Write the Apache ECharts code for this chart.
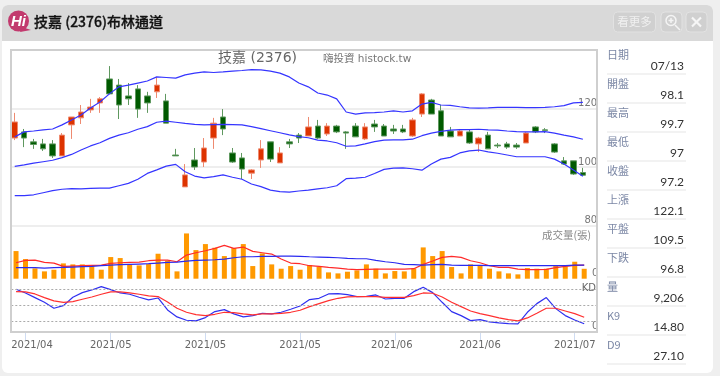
<!DOCTYPE html>
<html><head><meta charset="utf-8">
<style>html,body{margin:0;padding:0;background:#efefef;overflow:hidden}#c{width:720px;height:376px}</style>
<script src="https://cdn.jsdelivr.net/npm/echarts@6/dist/echarts.min.js"></script>
</head><body><div id="c"></div>
<script>
const titleText='技嘉 (2376)布林通道';
const tickIndex=[1,10,20,30,40,49,59];
const tickLabels=['2021/04','2021/05','2021/05','2021/05','2021/06','2021/06','2021/07'];
// [open, close, low, high]
const candles=[
[109.9,115.4,109.2,118.5],[112.0,109.9,106.8,113.0],[108.6,107.7,106.2,109.6],[107.9,106.2,105.5,109.6],[107.9,103.8,103.1,109.2],
[103.8,110.9,103.8,111.6],[114.4,117.1,109.6,117.1],[116.8,118.8,114.7,121.2],[119.5,120.5,118.5,123.3],[121.9,123.3,118.5,123.9],
[130.1,125.0,125.0,134.5],[128.0,121.2,116.4,130.1],[124.3,123.3,121.2,128.7],[126.7,119.8,116.8,128.0],[124.3,121.9,118.5,125.7],
[125.7,128.0,123.6,130.8],[122.6,115.0,115.0,125.0],[104.1,103.8,103.8,106.2],[93.2,97.3,93.2,101.0],[102.4,100,99,106.5],
[101.7,106.5,100,109.9],[109.9,115.0,106.2,116.8],[117.1,113.0,110.9,119.8],[104.8,101.7,101.4,106.5],[103.1,99.3,95.9,104.8],
[97.9,99.0,95.9,99.3],[102.4,106.2,99.7,109.2],[108.6,102.7,101.7,108.6],[101.4,104.8,101.4,106.8],[108.6,107.9,106.5,109.6],
[110.9,109.9,108.2,111.6],[110.6,113.7,110.6,117.1],[114.0,109.9,109.6,116.1],[111.3,114.0,110.6,115.0],[114.0,112.0,111.6,114.4],
[112.0,111.6,106.2,112.3],[114.0,110.3,110.3,115.0],[109.6,113.7,109.2,115.0],[114.7,113.7,112.0,116.1],[114.0,110.6,110.6,114.7],
[113.0,112.3,111.3,114.4],[113.0,112.0,111.6,114.4],[110.6,116.1,110.3,116.8],[118.1,125.0,117.1,125.3],[122.9,118.1,118.1,123.3],
[119.2,110.6,110.6,121.2],[112.3,110.3,110.3,113.7],[110.6,112.3,110.6,113.0],[112.0,108.2,107.9,112.7],[107.9,109.9,105.1,110.3],
[110.9,106.2,106.2,112.0],[107.5,107.2,106.5,108.2],[107.9,106.8,106.2,108.6],[107.5,106.8,106.2,108.2],[108.2,111.6,108.2,112.0],
[113.7,112.0,111.6,114.0],[112.7,112.5,111.6,113.3],[107.9,105.1,104.8,108.2],[102.1,101.0,100.7,103.4],[102.1,97.6,97.3,102.1],
[98.1,97.2,97,99.7]];
const bollUpper=[110.3,112.0,112.3,112.7,113.0,114.4,116.1,117.8,120.2,122.2,125.0,127.4,128.0,128.7,129.4,130.8,130.6,130.4,131.5,132.1,132.5,132.3,132.5,132.8,133.0,133.3,133.2,132.8,132.1,130.8,128.7,127.4,125.3,124.6,123.3,118.8,118.1,118.5,118.6,118.8,119.2,118.8,119.2,121.5,122.1,121.2,121.1,120.6,120.2,120.1,120.2,120.4,120.4,120.4,120.3,120.3,120.4,120.6,121.0,121.9,122.1];
const bollMid=[100.2,100.7,101.3,101.8,102.3,103.2,104.3,105.8,107.2,108.3,109.8,110.9,111.7,112.9,113.8,115.3,115.7,115.3,114.9,114.6,114.4,114.5,114.6,114.5,114.4,113.8,113.1,112.4,111.7,111.0,110.4,110.0,109.2,108.9,108.3,107.1,107.2,107.9,108.7,109.2,109.3,109.3,109.5,110.7,111.6,112.2,112.6,112.8,112.8,112.9,112.7,112.6,112.3,112.1,112.0,112.0,112.1,111.6,110.9,110.3,109.5];
const bollLower=[90.2,90.2,90.5,91.2,91.9,92.4,92.6,92.5,92.7,92.8,92.8,93.6,94.4,95.8,97.8,99.0,100.3,100.9,98.4,96.9,96.3,96.7,97.3,96.5,95.8,94.2,93.3,92.1,91.6,91.4,91.8,92.1,92.5,92.9,93.6,96.0,96.2,96.5,97.8,99.2,99.6,99.7,99.4,98.9,101.0,102.7,103.3,104.8,105.5,105.8,105.2,104.7,104.1,103.5,103.5,103.5,103.5,102.7,101.0,99.0,96.8];
const volume=[25650,18230,9580,6800,8340,14210,13290,13290,12050,8340,20090,19160,13290,12360,13600,23180,16690,6800,42020,26570,32140,28740,21010,28430,32140,11740,23480,13290,9270,11740,8340,12670,11120,5870,4940,6490,7730,13290,9270,4940,7110,6800,9580,29050,21010,25650,10820,4940,13290,12050,9270,6800,4940,4020,9890,9270,9270,12050,11430,15760,9206];
const volMaFast=[14830,16990,17300,15140,14520,11430,11740,12050,12360,12670,14210,14830,15140,15450,16690,17300,17300,15760,21940,24100,25960,28120,30900,28120,29360,25340,24100,22870,18230,14520,13910,12050,11430,10510,9890,8960,8340,8650,8960,8960,8960,8960,9270,13290,16380,19780,20700,19780,16690,14830,12050,10510,10510,8960,8340,8340,8650,10200,11430,12360,12670];
const volMaSlow=[10200,10200,10200,9890,10200,10510,10820,11120,11430,12050,12670,12980,13290,13600,13910,14520,15140,15450,16380,17000,17300,17610,18230,19470,20390,20390,20700,20700,21010,21010,20700,20390,20090,19780,19470,18850,18540,18540,17000,15760,14830,13290,12980,12670,12980,13290,12670,12360,12360,12360,12050,12050,12050,12050,12050,12050,12050,12050,12050,12670,12670];
const kValues=[80.0,73.0,64.2,55.3,44.0,49.0,64.8,73.6,78.7,85.0,79.3,73.0,70.5,64.8,59.8,63.5,40.8,27.6,21.3,20.0,26.3,37.7,41.5,33.3,27.6,30.1,34.5,33.3,36.4,42.1,48.4,60.4,62.9,71.1,71.7,69.8,66.1,66.7,69.2,61.6,62.9,62.9,75.5,83.7,73.6,55.3,37.7,30.1,20.6,22.5,18.1,16.2,15.0,14.3,36.4,52.8,64.2,43.3,30.1,21.9,14.8];
const dValues=[75.5,74.9,71.1,64.2,57.9,55.3,56.6,61.0,65.4,70.5,74.9,74.9,73.0,70.5,67.3,66.1,56.0,44.0,36.4,32.0,30.1,32.6,36.4,35.8,33.3,31.4,33.3,33.3,34.5,36.4,40.2,47.1,52.8,58.5,62.9,65.4,66.1,66.1,66.1,64.8,64.8,64.8,68.0,73.0,72.4,65.4,55.3,47.1,38.9,33.9,30.1,25.7,22.5,20.0,25.7,34.5,44.0,44.0,38.9,33.9,27.1];
const panelLabels=['日期','開盤','最高','最低','收盤','上漲','平盤','下跌','量','K9','D9'];
const panelValues=['07/13','98.1','99.7','97','97.2','122.1','109.5','96.8','9,206','14.80','27.10'];

const cats=new Array(62).fill('');
tickIndex.forEach((ix,k)=>{cats[ix]=tickLabels[k];});
const showTick=i=>cats[i]!=='';
const CJK='"Noto Sans CJK TC","Noto Sans",sans-serif';
const LAT='"DejaVu Sans",sans-serif';
const bandLine=(name,data)=>({name,type:'line',data,xAxisIndex:0,yAxisIndex:0,symbol:'none',z:4,lineStyle:{color:'#3535ff',width:1.2},animation:false});
const subLine=(name,data,color,ax)=>({name,type:'line',data,xAxisIndex:ax,yAxisIndex:ax,symbol:'none',z:4,lineStyle:{color,width:1.2},animation:false});
const seg=(x1,y1,x2,y2,stroke,lineWidth,z)=>({type:'line',shape:{x1,y1,x2,y2},style:{stroke,lineWidth},z:z||2,silent:true});

const g=[];
g.push({type:'rect',shape:{x:2,y:5,width:711,height:368,r:6},style:{fill:'#fff'},z:0});
g.push({type:'rect',shape:{x:2,y:5,width:711,height:36,r:[6,6,0,0]},style:{fill:'#d9d9d9'},z:0});
g.push({type:'polygon',shape:{points:[[22,27],[31,30],[20,32]]},style:{fill:'#c23a6e'},z:1});
g.push({type:'circle',shape:{cx:18.5,cy:21,r:10.5},style:{fill:'#c23a6e'},z:1});
g.push({type:'text',style:{x:18.5,y:21.5,text:'Hi',fill:'#fff',font:'italic bold 15px "Liberation Sans"',align:'center',verticalAlign:'middle'},z:2});
g.push({type:'text',style:{x:34,y:22,text:titleText,fill:'#111',stroke:'#111',lineWidth:0.3,font:'500 14px '+CJK,verticalAlign:'middle'},z:2});
const btn=(x,w)=>({type:'rect',shape:{x,y:12,width:w,height:20,r:4},style:{fill:'#d0d0d0',stroke:'#e2e2e2',lineWidth:1},z:1});
g.push(btn(613.5,42),btn(661,21),btn(686,21));
g.push({type:'text',style:{x:634.5,y:22,text:'看更多',fill:'#f0f0f0',font:'11.5px '+CJK,align:'center',verticalAlign:'middle'},z:2});
g.push({type:'circle',shape:{cx:671,cy:20.5,r:5},style:{fill:'none',stroke:'#f4f4f4',lineWidth:1.5},z:2});
g.push(seg(675,25,680,30,'#f4f4f4',1.5),seg(668.5,20.5,673.5,20.5,'#f4f4f4',1.5),seg(671,18,671,23,'#f4f4f4',1.5));
g.push(seg(692,17.5,701,26.5,'#f6f6f6',2.2),seg(701,17.5,692,26.5,'#f6f6f6',2.2));
g.push({type:'rect',shape:{x:11,y:50,width:586,height:282},style:{fill:'none',stroke:'#cfcfcf',lineWidth:2},z:10,silent:true});
g.push({type:'text',style:{x:218,y:58,text:'技嘉 (2376)',fill:'#666',font:'14px '+LAT+','+CJK,verticalAlign:'middle'},z:11});
g.push({type:'text',style:{x:323,y:59,text:'嗨投資 histock.tw',fill:'#777',font:'10.5px '+LAT+','+CJK,verticalAlign:'middle'},z:11});
g.push({type:'text',style:{x:591,y:235,text:'成交量(張)',fill:'#888',font:'10.5px '+CJK,align:'right',verticalAlign:'middle'},z:11});
g.push({type:'text',style:{x:596,y:288,text:'KD',fill:'#666',font:'10px '+LAT,align:'right',verticalAlign:'middle'},z:11});
panelLabels.forEach((t,i)=>{
  const top=45+29*i;
  g.push({type:'text',style:{x:607,y:top+9.5,text:t,fill:'#7b87a5',font:'11px '+CJK,verticalAlign:'middle'},z:2});
  g.push({type:'text',style:{x:684,y:top+21,text:panelValues[i],fill:'#333',font:'12px Lato,sans-serif',align:'right',verticalAlign:'middle'},z:2});
  g.push(seg(607,top+29,686,top+29,'#eeeeee',1.5));
});

const hiddenX=i=>({type:'category',gridIndex:i,data:cats,axisLine:{show:false},axisTick:{show:false},axisLabel:{show:false},splitLine:{show:false}});
const labelStyle={inside:true,color:'#777',fontSize:10,fontFamily:'DejaVu Sans',verticalAlign:'bottom',margin:0};
const richBase={color:'#666',fontSize:10,fontFamily:'DejaVu Sans'};
const chart=echarts.init(document.getElementById('c'),null,{renderer:'canvas'});
chart.setOption({
  animation:false,backgroundColor:'#efefef',
  graphic:{elements:g},
  grid:[
    {left:10,top:50,width:587.1,height:175.5},
    {left:11.3,top:227,width:587.1,height:51.7},
    {left:11.3,top:278.7,width:587.1,height:52.8}
  ],
  xAxis:[hiddenX(0),hiddenX(1),{
    type:'category',gridIndex:2,data:cats,position:'bottom',
    axisLine:{show:false},
    axisTick:{show:true,alignWithLabel:true,interval:showTick,length:9,lineStyle:{color:'#cfdcf2',width:1}},
    axisLabel:{show:true,interval:showTick,margin:9,color:'#666',fontSize:10,fontFamily:'DejaVu Sans',hideOverlap:false,
      formatter:(v,i)=>i===tickIndex[0]?'{a|'+v+'}':(i===tickIndex[4]?'{b|'+v+'}':v),
      rich:{a:Object.assign({padding:[0,0,0,13]},richBase),b:Object.assign({padding:[0,6,0,0]},richBase)}},
    splitLine:{show:false}
  }],
  yAxis:[
    {type:'value',gridIndex:0,position:'right',min:80,max:140,interval:20,axisLine:{show:false},axisTick:{show:false},
     splitLine:{show:true,lineStyle:{color:'#eeeeee',width:2}},
     axisLabel:Object.assign({},labelStyle,{formatter:v=>v===140?'':String(v)})},
    {type:'value',gridIndex:1,position:'right',min:0,max:48000,axisLine:{show:false},axisTick:{show:false},splitLine:{show:false},
     axisLabel:Object.assign({},labelStyle,{customValues:[0]})},
    {type:'value',gridIndex:2,position:'right',min:0,max:100,axisLine:{show:false},axisTick:{show:false},splitLine:{show:false},
     axisLabel:Object.assign({},labelStyle,{customValues:[0]})}
  ],
  series:[
    {type:'candlestick',name:'K',data:candles,xAxisIndex:0,yAxisIndex:0,barWidth:6,z:3,
     itemStyle:{color:'#dd3300',color0:'#005a00',borderColor:'#ee8a70',borderColor0:'#5f985f',borderWidth:1}},
    bandLine('上軌',bollUpper),bandLine('中軌',bollMid),bandLine('下軌',bollLower),
    {type:'bar',name:'成交量',data:volume,xAxisIndex:1,yAxisIndex:1,barWidth:5,itemStyle:{color:'#ff9900'},z:3},
    subLine('量MA短',volMaFast,'#ff2a2a',1),subLine('量MA長',volMaSlow,'#2a2af0',1),
    Object.assign(subLine('K9',kValues,'#3030f0',2),{markLine:{silent:true,symbol:'none',label:{show:false},
      lineStyle:{color:'#aaaaaa',type:[2,2],width:1},data:[{yAxis:20},{yAxis:50},{yAxis:80}]}}),
    subLine('D9',dValues,'#ff3030',2)
  ]
});
</script></body></html>
